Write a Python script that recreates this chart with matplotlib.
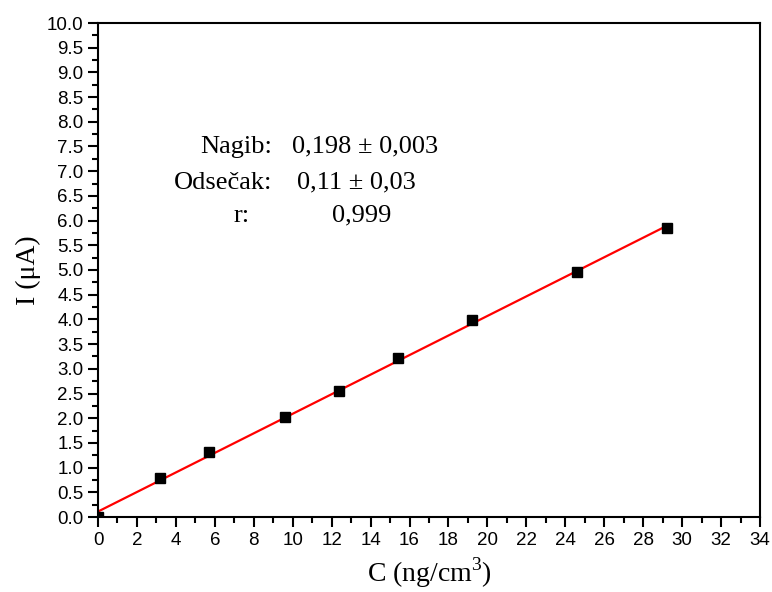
import matplotlib
matplotlib.use("Agg")
import matplotlib.pyplot as plt
import numpy as np
from matplotlib.ticker import MultipleLocator

# Concentration (ng/cm3) and current (uA)
C = [0.0, 3.2, 5.7, 9.6, 12.4, 15.4, 19.2, 24.6, 29.2]
I = [0.0, 0.78, 1.31, 2.02, 2.56, 3.22, 3.98, 4.96, 5.86]

# linear fit parameters from the annotation
slope = 0.198
intercept = 0.11

serif = 'Liberation Serif'
plt.rcParams['mathtext.fontset'] = 'custom'
plt.rcParams['mathtext.rm'] = serif

fig = plt.figure(figsize=(7.72, 5.92), dpi=100)
ax = fig.add_axes([98 / 772, 1 - 517 / 592, (760 - 98) / 772, (517 - 23) / 592])

x_fit = np.array([0.0, max(C)])
ax.plot(x_fit, intercept + slope * x_fit, color='red', lw=1.6, zorder=2)
ax.plot(C, I, 's', color='black', ms=7, zorder=3)

ax.set_xlim(0, 34)
ax.set_ylim(0, 10)
ax.xaxis.set_major_locator(MultipleLocator(2))
ax.xaxis.set_minor_locator(MultipleLocator(1))
ax.yaxis.set_major_locator(MultipleLocator(0.5))
ax.yaxis.set_minor_locator(MultipleLocator(0.25))
ax.yaxis.set_major_formatter(plt.FuncFormatter(lambda v, p: f'{v:.1f}'))

for s in ax.spines.values():
    s.set_linewidth(1.5)
ax.tick_params(which='both', direction='out', top=False, right=False, width=1.5)
ax.tick_params(which='major', length=7, labelsize=13.5)
ax.tick_params(which='minor', length=4)
for lab in ax.get_xticklabels() + ax.get_yticklabels():
    lab.set_family('Liberation Sans')

ax.set_xlabel('C (ng/cm$^3$)', family=serif, fontsize=20, labelpad=5)
ax.set_ylabel('I (μA)', family=serif, fontsize=20, labelpad=4)

# fit statistics
fs = 19
ax.text(8.95, 7.5, 'Nagib:', family=serif, fontsize=fs, ha='right', va='center')
ax.text(9.95, 7.5, '0,198 ± 0,003', family=serif, fontsize=fs, ha='left', va='center')
ax.text(8.95, 6.77, 'Odsečak:', family=serif, fontsize=fs, ha='right', va='center')
ax.text(10.2, 6.77, '0,11 ± 0,03', family=serif, fontsize=fs, ha='left', va='center')
ax.text(7.8, 6.1, 'r:', family=serif, fontsize=fs, ha='right', va='center')
ax.text(12.0, 6.1, '0,999', family=serif, fontsize=fs, ha='left', va='center')

fig.savefig('out.png', dpi=100)
